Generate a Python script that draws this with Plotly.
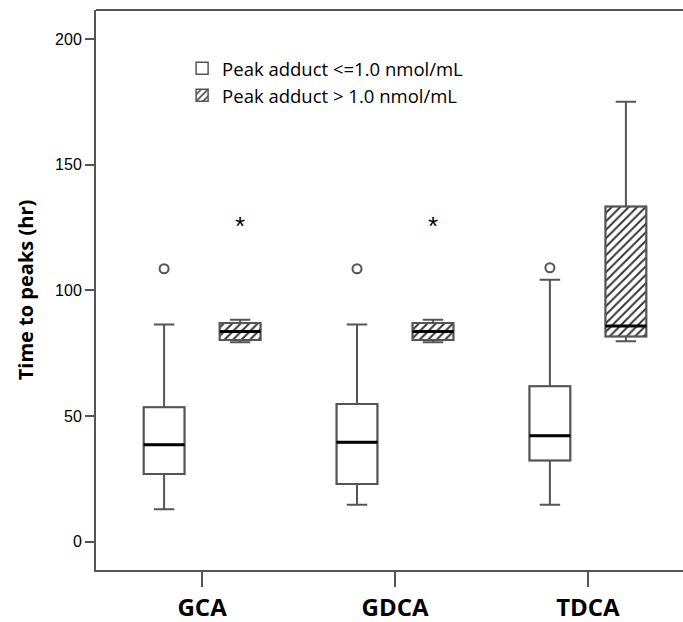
import plotly.graph_objects as go

categories = ["GCA", "GDCA", "TDCA"]
cat_pos = [0, 1, 2]

# Peak adduct <= 1.0 nmol/mL
low_lower = [13.0, 14.7, 14.7]
low_q1 = [27.0, 23.0, 32.3]
low_median = [38.6, 39.6, 42.2]
low_q3 = [53.5, 54.8, 61.9]
low_upper = [86.4, 86.4, 104.2]
low_outliers = [108.6, 108.6, 109.0]

# Peak adduct > 1.0 nmol/mL
high_lower = [79.4, 79.4, 79.8]
high_q1 = [80.3, 80.3, 81.7]
high_median = [83.6, 83.6, 85.8]
high_q3 = [87.0, 87.0, 133.4]
high_upper = [88.3, 88.3, 175.0]
high_extremes = [124.5, 124.5, None]

y_ticks = [0, 50, 100, 150, 200]

OFF = 0.197
BW = 0.212
LINE = "#555555"

low_x = [p - OFF for p in cat_pos]
high_x = [p + OFF for p in cat_pos]

fig = go.Figure()

# legend / fill bars
fig.add_trace(go.Bar(
    x=low_x, y=[q3 - q1 for q1, q3 in zip(low_q1, low_q3)], base=low_q1,
    width=BW, name="Peak adduct &lt;=1.0 nmol/mL", legendgroup="a",
    marker=dict(color="white", line=dict(color=LINE, width=1.5)),
    hoverinfo="skip"))
fig.add_trace(go.Bar(
    x=high_x, y=[q3 - q1 for q1, q3 in zip(high_q1, high_q3)], base=high_q1,
    width=BW, name="Peak adduct &gt; 1.0 nmol/mL", legendgroup="b",
    marker=dict(color="white", line=dict(color=LINE, width=1.5),
                pattern=dict(shape="/", size=6, solidity=0.32, fgcolor="#333333",
                             bgcolor="white", fillmode="replace")),
    hoverinfo="skip"))

for xs, lo, q1, med, q3, up in [
        (low_x, low_lower, low_q1, low_median, low_q3, low_upper),
        (high_x, high_lower, high_q1, high_median, high_q3, high_upper)]:
    fig.add_trace(go.Box(
        x=xs, q1=q1, median=med, q3=q3, lowerfence=lo, upperfence=up,
        width=BW, whiskerwidth=0.5, fillcolor="rgba(0,0,0,0)",
        line=dict(color=LINE, width=2), showlegend=False, hoverinfo="skip"))
    # thick median lines
    mx, my = [], []
    for x, m in zip(xs, med):
        mx += [x - BW / 2, x + BW / 2, None]
        my += [m, m, None]
    fig.add_trace(go.Scatter(x=mx, y=my, mode="lines",
                             line=dict(color="black", width=3),
                             showlegend=False, hoverinfo="skip"))

fig.add_trace(go.Scatter(
    x=low_x, y=low_outliers, mode="markers", showlegend=False,
    marker=dict(symbol="circle-open", size=9, color=LINE, line=dict(width=2)),
    hoverinfo="skip"))

ex_x = [x for x, v in zip(high_x, high_extremes) if v is not None]
ex_y = [v for v in high_extremes if v is not None]
fig.add_trace(go.Scatter(
    x=ex_x, y=ex_y, mode="text", text=["*"] * len(ex_x),
    textposition="middle center",
    textfont=dict(size=26, color="black", family="Liberation Sans"),
    showlegend=False, hoverinfo="skip"))

fig.add_shape(type="line", xref="paper", yref="paper", x0=0, x1=1, y0=1, y1=1,
              line=dict(color=LINE, width=2))

# The frame extends past the right edge of the window (as in the reference)
fig.update_layout(
    width=694, height=622,
    margin=dict(l=96, r=0, t=10, b=52),
    plot_bgcolor="white", paper_bgcolor="white",
    barmode="overlay",
    showlegend=True,
    legend=dict(x=0.144, y=0.929, xanchor="left", yanchor="top",
                bgcolor="rgba(0,0,0,0)", traceorder="grouped",
                tracegroupgap=0,
                font=dict(family="Open Sans", size=18.5, color="black")),
    xaxis=dict(range=[-0.55, 2.55], tickvals=cat_pos, ticktext=categories,
               showgrid=False, zeroline=False, showline=True, linecolor=LINE,
               linewidth=2, ticks="outside", ticklen=15, tickwidth=2,
               tickcolor=LINE, automargin=False,
               tickfont=dict(family="Open Sans", size=24, color="black",
                             weight="bold")),
    yaxis=dict(range=[-11.2, 211.5], tickvals=y_ticks, showgrid=False,
               zeroline=False, showline=True, linecolor=LINE, linewidth=2,
               ticks="outside", ticklen=9, tickwidth=1.5, tickcolor=LINE,
               tickfont=dict(family="Liberation Sans", size=16, color="black"),
               title=dict(text="Time to peaks (hr)", standoff=16,
                          font=dict(family="Open Sans", size=20, color="black",
                                    weight="bold"))),
)

fig.write_html(
    "out.html",
    config={"displayModeBar": False},
    post_script="document.body.style.margin='0';document.body.style.overflow='hidden';",
)
